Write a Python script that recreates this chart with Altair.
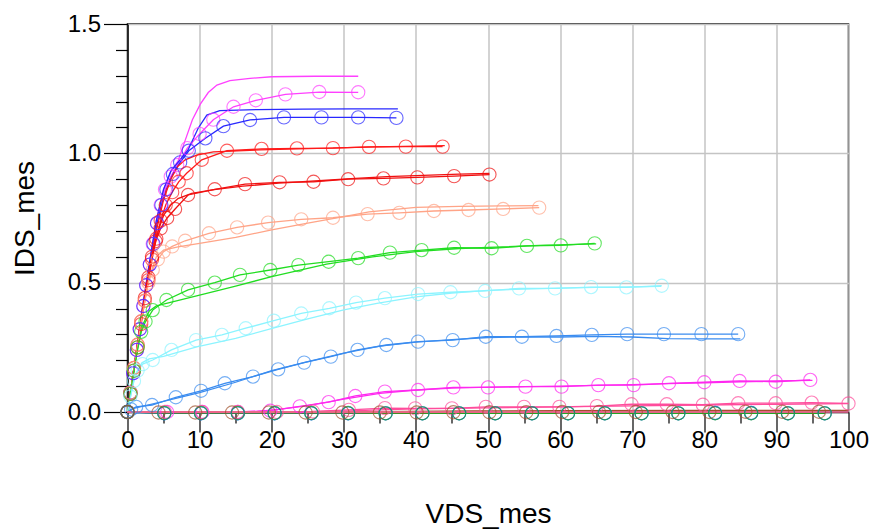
import altair as alt
import pandas as pd

# ---------------- data ----------------
# curve 1 : magenta (top)
m1x = [0, 0.4, 0.8, 1.3, 1.7, 2.2, 2.6, 3.1, 3.5, 4.1, 4.6, 5.2, 6.0, 6.9, 8.3, 10.0, 11.9, 14.7, 17.8, 21.9, 26.6, 32.0]
m1y = [0, 0.07, 0.15, 0.24, 0.32, 0.41, 0.49, 0.57, 0.65, 0.73, 0.80, 0.86, 0.91, 0.955, 1.02, 1.075, 1.13, 1.18, 1.205, 1.228, 1.237, 1.236]
s1x = [0, 1, 2, 3, 4, 5, 6, 7, 8, 9, 10.1, 11.2, 12.4, 14.2, 17, 20, 26, 32]
s1y = [0, 0.19, 0.39, 0.57, 0.74, 0.86, 0.93, 0.97, 1.05, 1.13, 1.19, 1.235, 1.264, 1.281, 1.29, 1.296, 1.298, 1.298]
# curve 2 : blue
m2x = [0, 0.4, 0.8, 1.3, 1.7, 2.2, 2.6, 3.1, 3.6, 4.1, 4.7, 5.4, 6.3, 7.3, 8.5, 10.8, 13.3, 17.0, 21.7, 26.9, 32.0, 37.3]
m2y = [0, 0.075, 0.15, 0.24, 0.32, 0.41, 0.49, 0.57, 0.65, 0.73, 0.80, 0.86, 0.92, 0.965, 1.01, 1.058, 1.105, 1.129, 1.139, 1.139, 1.139, 1.137]
s2x = [0, 1, 2, 3, 4, 5, 6, 7, 8.4, 9.8, 11, 12.8, 18, 24.3, 31, 37.5]
s2y = [0, 0.19, 0.39, 0.57, 0.74, 0.86, 0.93, 0.965, 1.013, 1.097, 1.148, 1.165, 1.169, 1.171, 1.172, 1.172]
# curve 3 : red (upper)
m3x = [0, 0.4, 0.9, 1.4, 1.9, 2.4, 2.9, 3.4, 4.0, 4.6, 5.3, 6.2, 7.1, 8.2, 10.3, 13.8, 18.6, 23.5, 28.5, 33.5, 38.6, 43.7]
m3y = [0, 0.07, 0.16, 0.25, 0.34, 0.43, 0.51, 0.59, 0.67, 0.74, 0.80, 0.85, 0.89, 0.923, 0.975, 1.01, 1.017, 1.019, 1.02, 1.025, 1.026, 1.026]
s3x = [0, 1, 2, 3, 4, 5, 6, 7, 8, 9.6, 11.9, 18.4, 25, 34.5, 44]
s3y = [0, 0.19, 0.38, 0.55, 0.70, 0.82, 0.90, 0.95, 0.975, 0.993, 1.006, 1.013, 1.018, 1.025, 1.03]
# curve 4 : red (lower)
m4x = [0, 0.4, 0.9, 1.4, 1.9, 2.4, 2.9, 3.4, 3.9, 4.6, 5.5, 6.6, 8.4, 12.1, 16.3, 21.1, 25.8, 30.6, 35.5, 40.2, 45.3, 50.2]
m4y = [0, 0.075, 0.17, 0.26, 0.35, 0.44, 0.52, 0.60, 0.66, 0.71, 0.75, 0.785, 0.839, 0.861, 0.881, 0.888, 0.89, 0.90, 0.903, 0.907, 0.912, 0.918]
s4x = [0, 1, 2, 3, 4, 5, 6, 7, 8.9, 12, 16, 21, 26, 31, 36, 41, 46, 50.2]
s4y = [0, 0.19, 0.38, 0.55, 0.68, 0.76, 0.80, 0.825, 0.845, 0.86, 0.873, 0.885, 0.893, 0.902, 0.91, 0.915, 0.92, 0.922]
# curve 5 : salmon
m5x = [0, 0.4, 0.9, 1.4, 1.9, 2.4, 2.9, 3.5, 4.2, 5.0, 6.2, 8.0, 11.3, 15.2, 19.5, 24.1, 28.5, 33.3, 37.7, 42.5, 47.3, 52.1, 57.1]
m5y = [0, 0.075, 0.17, 0.26, 0.35, 0.43, 0.50, 0.55, 0.59, 0.62, 0.64, 0.662, 0.691, 0.714, 0.732, 0.745, 0.751, 0.765, 0.77, 0.777, 0.781, 0.785, 0.79]
s5x = [0, 1, 2, 3, 4, 5, 7, 10, 15, 20, 25, 30, 33.5, 40, 46, 52, 57]
s5y = [0, 0.19, 0.37, 0.52, 0.60, 0.626, 0.638, 0.652, 0.675, 0.704, 0.73, 0.755, 0.774, 0.791, 0.795, 0.797, 0.798]
# curve 6 : green
m6x = [0, 0.4, 0.9, 1.4, 1.9, 2.5, 3.5, 5.4, 8.4, 12.1, 15.6, 19.8, 23.7, 27.9, 32.0, 36.4, 40.8, 45.3, 50.5, 55.4, 60.1, 64.8]
m6y = [0, 0.07, 0.16, 0.25, 0.31, 0.35, 0.394, 0.433, 0.472, 0.50, 0.53, 0.549, 0.568, 0.581, 0.595, 0.616, 0.626, 0.635, 0.633, 0.642, 0.644, 0.652]
s6x = [0, 1, 2, 3, 4, 5.4, 10, 15, 20, 25, 27.6, 34, 40, 46, 52, 58, 65]
s6y = [0, 0.18, 0.33, 0.39, 0.41, 0.42, 0.452, 0.487, 0.523, 0.555, 0.572, 0.60, 0.62, 0.632, 0.638, 0.645, 0.65]
# curve 7 : light cyan
m7x = [0, 0.4, 0.9, 1.4, 2.1, 3.5, 6.1, 9.5, 13.1, 16.4, 20.3, 24.1, 28.0, 31.7, 35.7, 40.3, 44.8, 49.6, 54.3, 59.3, 64.3, 69.2, 74.1]
m7y = [0, 0.06, 0.12, 0.16, 0.185, 0.201, 0.24, 0.278, 0.298, 0.324, 0.353, 0.381, 0.401, 0.423, 0.44, 0.456, 0.463, 0.468, 0.478, 0.478, 0.483, 0.482, 0.488]
s7x = [0, 1, 2, 3, 5, 9.6, 15, 20.2, 25, 30, 34.6, 40, 45, 50, 55, 60, 65, 70, 74]
s7y = [0, 0.14, 0.19, 0.205, 0.215, 0.252, 0.285, 0.324, 0.36, 0.395, 0.42, 0.445, 0.46, 0.47, 0.475, 0.479, 0.482, 0.484, 0.486]
# curve 8 : dodger blue
m8x = [0, 0.5, 1.2, 3.4, 6.7, 10.2, 13.5, 17.4, 20.9, 24.5, 28.2, 31.9, 35.9, 40.3, 45.1, 49.7, 54.7, 59.5, 64.4, 69.3, 74.4, 79.6, 84.7]
m8y = [0, 0.01, 0.02, 0.027, 0.057, 0.082, 0.111, 0.137, 0.165, 0.191, 0.214, 0.24, 0.259, 0.272, 0.278, 0.291, 0.291, 0.294, 0.298, 0.301, 0.301, 0.301, 0.301]
s8x = [0, 1, 3.4, 10, 15, 20, 25, 30, 35, 40, 45, 50, 55, 60, 65, 70, 75, 80, 85]
s8y = [0, 0.015, 0.03, 0.075, 0.115, 0.16, 0.195, 0.228, 0.255, 0.27, 0.28, 0.288, 0.29, 0.29, 0.292, 0.29, 0.284, 0.283, 0.283]
# curve 9 : magenta (low)
m9x = [0, 5.5, 10.4, 15.3, 19.8, 23.9, 27.9, 31.6, 35.7, 40.3, 45.2, 50.0, 55.2, 60.2, 65.3, 70.2, 75.1, 80.0, 84.9, 89.9, 94.7]
m9y = [0, 0, 0, 0, 0.005, 0.022, 0.038, 0.062, 0.079, 0.085, 0.095, 0.095, 0.098, 0.098, 0.104, 0.104, 0.111, 0.115, 0.12, 0.117, 0.124]
s9x = [0, 15, 18, 21, 25, 30, 35, 40, 45, 50, 55, 60, 65, 70, 75, 80, 85, 90, 95]
s9y = [0, 0, 0.002, 0.01, 0.025, 0.05, 0.072, 0.085, 0.092, 0.096, 0.098, 0.10, 0.103, 0.106, 0.11, 0.113, 0.117, 0.12, 0.122]
# curve 10 : pink
m10x = [0, 5.2, 10.3, 15.3, 20.7, 25.7, 30.7, 35.7, 39.9, 45.0, 49.7, 55.0, 59.9, 65.1, 69.9, 74.8, 79.8, 84.7, 89.9, 94.9, 100.0]
m10y = [0, 0, 0, 0, 0, 0.002, 0.008, 0.015, 0.014, 0.014, 0.02, 0.02, 0.02, 0.023, 0.03, 0.03, 0.028, 0.034, 0.034, 0.036, 0.033]
s10x = [0, 25, 30, 35, 40, 50, 60, 70, 80, 90, 100]
s10y = [0, 0, 0.003, 0.008, 0.012, 0.016, 0.02, 0.024, 0.027, 0.03, 0.032]
# sub-threshold curves (zero current)
zx = [0, 5.1, 10.2, 15.3, 20.4, 25.5, 30.6, 35.8, 40.9, 46.0, 51.0, 56.1, 61.1, 66.2, 71.3, 76.4, 81.5, 86.5, 91.6, 96.7]
zgreen_y = [0, -0.004, -0.004, -0.004, -0.004, -0.004, -0.004, -0.005, -0.005, -0.005, -0.005, -0.005, -0.005, -0.005, -0.005, -0.005, -0.005, -0.005, -0.005, -0.005]
zbrown_x = [0, 4.3, 9.4, 14.5, 19.6, 24.7, 29.8, 35.0, 40.1, 45.2, 50.2, 55.3, 60.3, 65.4, 70.5, 75.6, 80.7, 85.7, 90.8, 95.9]
zbrown_y = [0, -0.002, -0.002, -0.002, -0.002, -0.002, -0.002, -0.002, -0.002, -0.001, -0.001, -0.001, 0, 0, 0, 0, 0, 0.001, 0.001, 0.001]
zbrown_sx = [0, 30, 48, 60, 80, 100]
zbrown_sy = [0, 0, 0.004, 0.005, 0.006, 0.006]
zteal_y = [0, -0.005, -0.005, -0.005, -0.005, -0.005, -0.005, -0.005, -0.005, -0.005, -0.005, -0.005, -0.005, -0.005, -0.005, -0.005, -0.004, -0.004, -0.005, -0.005]
zpink_sx = [0, 100]
zpink_sy = [0, 0]

x_ticks = [0, 5, 10, 15, 20, 25, 30, 35, 40, 45, 50, 55, 60, 65, 70, 75, 80, 85, 90, 95, 100]
y_ticks = [0.0, 0.1, 0.2, 0.3, 0.4, 0.5, 0.6, 0.7, 0.8, 0.9, 1.0, 1.1, 1.2, 1.3, 1.4, 1.5]

curve_names = ["c1", "c2", "c3", "c4", "c5", "c6", "c7", "c8", "c9", "c10",
               "zteal", "zblue", "zgreen", "zbrown", "zpink"]
curve_colors = ["#FF40FF", "#2828FF", "#FF1A1A", "#F01010", "#FFA487", "#22DD22",
                "#8CF4FF", "#3A8CF0", "#FF28F0", "#FF4C9C",
                "#22C4C4", "#2244FF", "#22A522", "#A0522D", "#FF6FA0"]

# ---------------- table ----------------
meas = {"c1": (m1x, m1y), "c2": (m2x, m2y), "c3": (m3x, m3y), "c4": (m4x, m4y),
        "c5": (m5x, m5y), "c6": (m6x, m6y), "c7": (m7x, m7y), "c8": (m8x, m8y),
        "c9": (m9x, m9y), "c10": (m10x, m10y),
        "zteal": (zx, zteal_y), "zblue": (zx, zteal_y), "zgreen": (zx, zgreen_y),
        "zbrown": (zbrown_x, zbrown_y)}
sim = {"c1": (s1x, s1y), "c2": (s2x, s2y), "c3": (s3x, s3y), "c4": (s4x, s4y),
       "c5": (s5x, s5y), "c6": (s6x, s6y), "c7": (s7x, s7y), "c8": (s8x, s8y),
       "c9": (s9x, s9y), "c10": (s10x, s10y),
       "zbrown": (zbrown_sx, zbrown_sy), "zpink": (zpink_sx, zpink_sy)}

rows = []
for name, (xs, ys) in meas.items():
    for i, (a, b) in enumerate(zip(xs, ys)):
        rows.append({"curve": name, "kind": "meas", "series": name + "_m", "i": i,
                     "VDS_mes": a, "IDS_mes": b})
for name, (xs, ys) in sim.items():
    for i, (a, b) in enumerate(zip(xs, ys)):
        rows.append({"curve": name, "kind": "sim", "series": name + "_s", "i": i,
                     "VDS_mes": a, "IDS_mes": b})
df = pd.DataFrame(rows)

# ---------------- chart ----------------
FONT = "Liberation Sans"
y_major = "abs(datum.value*2 - round(datum.value*2)) < 0.001"
x_major = "abs(datum.value/10 - round(datum.value/10)) < 0.001"

x_axis = alt.Axis(
    values=x_ticks, title="VDS_mes",
    labelExpr=x_major + " ? format(datum.value, 'd') : ''",
    tickSize={"condition": {"test": x_major, "value": 20}, "value": 11},
    gridOpacity={"condition": {"test": x_major, "value": 1}, "value": 0},
    labelFlush=False, labelFontSize=24, labelFont=FONT, labelColor="black",
    labelPadding=-4, labelOverlap=False,
    titleFontSize=28, titleFont=FONT, titleFontWeight="normal", titleColor="black",
    titleX=360.5, titleY=110, titleBaseline="alphabetic", titleAnchor="middle",
)
y_axis = alt.Axis(
    values=y_ticks, title="IDS_mes",
    labelExpr=y_major + " ? format(datum.value, '.1f') : ''",
    tickSize={"condition": {"test": y_major, "value": 24}, "value": 12},
    gridOpacity={"condition": {"test": y_major, "value": 1}, "value": 0},
    labelFlush=False, labelFontSize=24, labelFont=FONT, labelColor="black",
    labelPadding=3, labelOverlap=False,
    titleFontSize=28, titleFont=FONT, titleFontWeight="normal", titleColor="black",
    titleX=-102, titleY=194, titleBaseline="middle", titleAnchor="middle",
)

x_enc = alt.X("VDS_mes:Q", scale=alt.Scale(domain=[0, 100], nice=False, zero=False), axis=x_axis)
y_enc = alt.Y("IDS_mes:Q", scale=alt.Scale(domain=[0, 1.5], nice=False, zero=False), axis=y_axis)
color_enc = alt.Color("curve:N", scale=alt.Scale(domain=curve_names, range=curve_colors), legend=None)

base = alt.Chart(df).encode(x=x_enc, y=y_enc, color=color_enc)

lines = base.mark_line(strokeWidth=1.3, clip=False).encode(
    detail="series:N", order="i:Q"
)
points = base.transform_filter(alt.datum.kind == "meas").mark_point(
    shape="circle", filled=False, size=175, strokeWidth=1.1, clip=False
)

chart = alt.layer(lines, points).properties(
    width=721, height=388,
    autosize="none",
    background="white",
    padding={"left": 127.5, "top": 24, "right": 23.5, "bottom": 118},
).configure_view(
    stroke="black", strokeWidth=1.5
).configure_axis(
    domainColor="black", domainWidth=1.5, tickColor="black", tickWidth=1.2,
    gridColor="#C4C4C4", gridWidth=1.5,
)

chart.save("out.html", embed_options={"renderer": "svg", "actions": False})
